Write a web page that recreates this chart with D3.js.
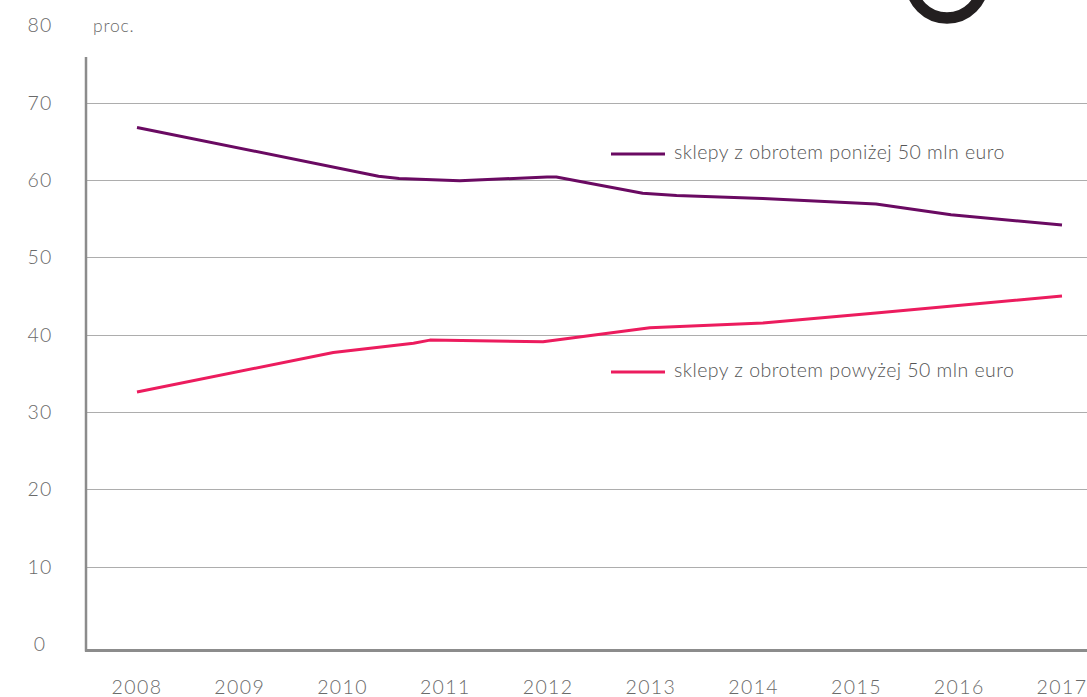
<!DOCTYPE html>
<html><head><meta charset="utf-8">
<script src="https://cdn.jsdelivr.net/npm/d3@7"></script>
<style>
html,body{margin:0;padding:0;background:#fff;}
svg{display:block;}
text{font-family:Lato,"Open Sans",sans-serif;font-weight:300;}
</style></head>
<body>
<svg id="chart" width="1087" height="697"></svg>
<script>
// ---- data ----
const years = [2008, 2009, 2010, 2011, 2012, 2013, 2014, 2015, 2016, 2017];
const yTicks = [0, 10, 20, 30, 40, 50, 60, 70, 80];
const seriesNames = ["sklepy z obrotem poniżej 50 mln euro", "sklepy z obrotem powyżej 50 mln euro"];
// positions along the time axis (years) and values (proc.)
const smallX = [2008.0, 2010.35, 2010.55, 2011.14, 2011.99, 2012.08, 2012.92, 2013.25, 2014.09, 2015.19, 2015.92, 2017.0];
const smallV = [66.8, 60.5, 60.2, 59.9, 60.4, 60.4, 58.3, 58.0, 57.6, 56.9, 55.5, 54.2];
const largeX = [2008.0, 2009.91, 2010.69, 2010.85, 2011.95, 2012.99, 2014.09, 2015.19, 2017.0];
const largeV = [32.6, 37.7, 38.9, 39.3, 39.1, 40.9, 41.5, 42.8, 45.0];
const colors = ["#6a0a62", "#ec1c5e"];
const unitLabel = "proc.";

const svg = d3.select("#chart");
const x = d3.scaleLinear().domain([2008, 2017]).range([137, 1062]);
const y = d3.scaleLinear().domain([0, 80]).range([644, 25.4]);

// decorative ring (logo fragment)
svg.append("circle").attr("cx", 947).attr("cy", -18).attr("r", 36)
  .attr("fill", "none").attr("stroke", "#231f20").attr("stroke-width", 11.5);

// gridlines
svg.append("g").selectAll("line").data(yTicks.filter(d => d > 0 && d < 80)).join("line")
  .attr("x1", 86).attr("x2", 1087)
  .attr("y1", d => Math.round(y(d)) + 0.5).attr("y2", d => Math.round(y(d)) + 0.5)
  .attr("stroke", "#adadad").attr("stroke-width", 1);

// y labels
svg.append("g").selectAll("text").data(yTicks).join("text")
  .attr("x", 40).attr("y", d => y(d)).attr("dy", "0.36em")
  .attr("text-anchor", "middle").attr("font-size", 19.5).attr("letter-spacing", 1.2)
  .attr("fill", "#6a6a6a").text(d => d);

svg.append("text").attr("x", 93).attr("y", 32).attr("font-size", 17.5)
  .attr("letter-spacing", 0.8).attr("fill", "#6a6a6a").text(unitLabel);

// axes lines
svg.append("line").attr("x1", 86).attr("x2", 86).attr("y1", 57).attr("y2", 651.5)
  .attr("stroke", "#8c8c8c").attr("stroke-width", 2.5);
svg.append("line").attr("x1", 85).attr("x2", 1087).attr("y1", 650.5).attr("y2", 650.5)
  .attr("stroke", "#8c8c8c").attr("stroke-width", 3);

// x labels
svg.append("g").selectAll("text").data(years).join("text")
  .attr("x", d => x(d)).attr("y", 693.5)
  .attr("text-anchor", "middle").attr("font-size", 19.5).attr("letter-spacing", 1.4)
  .attr("fill", "#6a6a6a").text(d => d);

// lines
const line = d3.line().x(d => x(d[0])).y(d => y(d[1])).curve(d3.curveLinear);
const seriesData = [d3.zip(smallX, smallV), d3.zip(largeX, largeV)];
svg.append("g").selectAll("path").data(seriesData).join("path")
  .attr("d", line).attr("fill", "none")
  .attr("stroke", (d, i) => colors[i]).attr("stroke-width", 3)
  .attr("stroke-linejoin", "round");

// legend
const lg = svg.append("g").selectAll("g").data(seriesNames).join("g")
  .attr("transform", (d, i) => `translate(611,${[154, 372][i]})`);
lg.append("line").attr("x1", 0).attr("x2", 54).attr("y1", 0).attr("y2", 0)
  .attr("stroke", (d, i) => colors[i]).attr("stroke-width", 3);
lg.append("text").attr("x", 63).attr("y", 5).attr("font-size", 19.5).attr("letter-spacing", 0.45)
  .attr("fill", "#555555").text(d => d);
</script>
</body></html>
